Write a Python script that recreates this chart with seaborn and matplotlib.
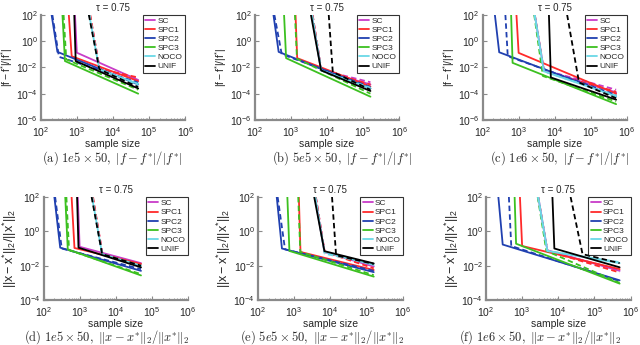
import matplotlib
matplotlib.use('Agg')
import matplotlib.pyplot as plt
from matplotlib.lines import Line2D
from matplotlib.ticker import LogLocator, NullLocator, NullFormatter
import pandas as pd
import seaborn as sns

methods = ['SC', 'SPC1', 'SPC2', 'SPC3', 'NOCO', 'UNIF']
method_colors = ['#c83cc8', '#ff2a2a', '#2040b0', '#3cc020', '#6ad8e6', '#000000']
ceiling = 1e2  # curves enter from the top of the plot

# --- 1e5 x 50: sample sizes where each curve leaves the ceiling, bends, ends
start_1e5_solid = [890, 600, 200, 400, 2200, 850]
knee_1e5_solid = [1000, 720, 290, 470, 4200, 930]
start_1e5_dashed = [2300, 2350, 210, 430, 2250, 2150]
knee_1e5_dashed = [4300, 4300, 320, 510, 4200, 4200]
last_1e5 = 5e4

# --- 5e5 x 50
start_5e5_solid = [3800, 1350, 330, 650, 3800, 3600]
knee_5e5_solid = [6900, 1500, 460, 740, 6900, 6900]
start_5e5_dashed = [4000, 4000, 350, 1300, 3900, 11200]
knee_5e5_dashed = [7000, 7000, 560, 1480, 7000, 14500]
last_5e5 = 1.6e5

# --- 1e6 x 50
start_1e6_solid = [2800, 870, 220, 620, 2800, 6900]
knee_1e6_solid = [5000, 1000, 290, 680, 5000, 7800]
start_1e6_dashed = [2750, 2800, 430, 2700, 2750, 22000]
knee_1e6_dashed = [5000, 5000, 500, 4700, 5000, 47000]
last_1e6 = 5e5

# errors at the bend and at the last sample size
a_knee_solid = [1.3e-1, 7e-2, 1.5e-1, 3e-2, 7e-3, 3e-2]
a_last_solid = [1.1e-3, 9e-4, 5e-4, 1e-4, 5.6e-4, 2.5e-4]
a_knee_dashed = [8e-3, 7.6e-3, 6.3e-2, 4e-2, 7e-3, 7e-3]
a_last_dashed = [1.3e-3, 1.7e-3, 7e-4, 2e-4, 4.5e-4, 3.2e-4]

b_knee_solid = [5.9e-3, 5e-2, 1.5e-1, 5e-2, 5.9e-3, 5.9e-3]
b_last_solid = [5e-4, 3.5e-4, 2.5e-4, 5.9e-5, 2.5e-4, 1.6e-4]
b_knee_dashed = [6.3e-3, 6.3e-3, 1e-1, 4.5e-2, 5.9e-3, 4.4e-3]
b_last_dashed = [7.4e-4, 5e-4, 3.2e-4, 1e-4, 2.8e-4, 2e-4]

c_knee_solid = [6.3e-3, 1.26e-1, 1.4e-1, 2.2e-2, 5e-3, 1.7e-3]
c_last_solid = [1.26e-4, 1e-4, 6.3e-5, 1.6e-5, 6.3e-5, 3.5e-5]
c_knee_dashed = [6.3e-3, 5e-3, 7e-2, 2.2e-3, 5e-3, 7e-4]
c_last_dashed = [2e-4, 1.4e-4, 8e-5, 2.5e-5, 7e-5, 4.5e-5]

d_knee_solid = [1.26e-1, 1.07e-1, 1.12e-1, 8.9e-2, 4.7e-2, 1.12e-1]
d_last_solid = [1.4e-2, 1.26e-2, 5e-3, 2.7e-3, 1e-2, 8e-3]
d_knee_dashed = [4.7e-2, 4.7e-2, 1e-1, 8e-2, 4.7e-2, 4.7e-2]
d_last_dashed = [1.26e-2, 1.1e-2, 6.3e-3, 3.2e-3, 9e-3, 1e-2]

e_knee_solid = [6.3e-2, 6.3e-2, 1e-1, 7.2e-2, 6.3e-2, 7e-2]
e_last_solid = [8.9e-3, 5.6e-3, 4.2e-3, 2.3e-3, 1.1e-2, 1.35e-2]
e_knee_dashed = [6.3e-2, 6.3e-2, 8.9e-2, 6.3e-2, 5e-2, 4e-2]
e_last_dashed = [1e-2, 7e-3, 5e-3, 2.8e-3, 1.26e-2, 1.26e-2]

f_knee_solid = [7.9e-2, 1.4e-1, 1.7e-1, 1.9e-1, 7.2e-2, 1e-1]
f_last_solid = [5e-3, 6.3e-3, 1.4e-3, 9e-4, 1.4e-2, 8e-3]
f_knee_dashed = [7.2e-2, 7.2e-2, 1.4e-1, 7.2e-2, 7.2e-2, 4.7e-2]
f_last_dashed = [5.6e-3, 4e-3, 1.26e-3, 1e-3, 1.6e-2, 1.4e-2]

captions = [r'$\mathrm{(a)}\ 1e5\times 50,\ |f-f^{*}|/|f^{*}|$',
            r'$\mathrm{(b)}\ 5e5\times 50,\ |f-f^{*}|/|f^{*}|$',
            r'$\mathrm{(c)}\ 1e6\times 50,\ |f-f^{*}|/|f^{*}|$',
            r'$\mathrm{(d)}\ 1e5\times 50,\ \|x-x^{*}\|_2/\|x^{*}\|_2$',
            r'$\mathrm{(e)}\ 5e5\times 50,\ \|x-x^{*}\|_2/\|x^{*}\|_2$',
            r'$\mathrm{(f)}\ 1e6\times 50,\ \|x-x^{*}\|_2/\|x^{*}\|_2$']
f_label = r'$|\mathrm{f}-\mathrm{f}^{*}|/|\mathrm{f}^{*}|$'
x_label = r'$||\mathrm{x}-\mathrm{x}^{*}||_{2}/||\mathrm{x}^{*}||_{2}$'


def curve_frame(starts, knees, last, knee_err, last_err, variant):
    rows = []
    for m, s, k, ke, le in zip(methods, starts, knees, knee_err, last_err):
        for x, y in [(s, ceiling), (k, ke), (last, le)]:
            rows.append({'method': m, 'variant': variant, 'size': x, 'err': y})
    return pd.DataFrame(rows)


experiments = [
    (start_1e5_solid, knee_1e5_solid, start_1e5_dashed, knee_1e5_dashed, last_1e5),
    (start_5e5_solid, knee_5e5_solid, start_5e5_dashed, knee_5e5_dashed, last_5e5),
    (start_1e6_solid, knee_1e6_solid, start_1e6_dashed, knee_1e6_dashed, last_1e6),
]
panels = [
    (0, a_knee_solid, a_last_solid, a_knee_dashed, a_last_dashed),
    (1, b_knee_solid, b_last_solid, b_knee_dashed, b_last_dashed),
    (2, c_knee_solid, c_last_solid, c_knee_dashed, c_last_dashed),
    (0, d_knee_solid, d_last_solid, d_knee_dashed, d_last_dashed),
    (1, e_knee_solid, e_last_solid, e_knee_dashed, e_last_dashed),
    (2, f_knee_solid, f_last_solid, f_knee_dashed, f_last_dashed),
]

sns.set_style('ticks')
plt.rcParams['font.family'] = ['Liberation Sans', 'DejaVu Sans']
plt.rcParams['mathtext.fontset'] = 'custom'
plt.rcParams['mathtext.rm'] = 'Liberation Sans'
plt.rcParams['mathtext.it'] = 'Liberation Sans:italic'

W, H = 640, 345
# axes boxes in pixels: left, top, right, bottom
boxes = [(40.7, 14.7, 185.2, 120), (254.7, 14.7, 399.2, 120), (482.5, 14.7, 627, 120),
         (43.5, 197, 188, 300), (258, 197, 402.5, 300), (486, 197, 630.5, 300)]
caption_pos = [(112, 158.5), (342, 158.5), (560, 158.5), (107, 337), (322, 337), (540, 337)]

fig = plt.figure(figsize=(W / 100, H / 100), dpi=100)
gray = '#8a8a8a'

for i, (exp_id, ks, ls, kd, ld) in enumerate(panels):
    ss, sk, ds, dk, last = experiments[exp_id]
    l, t, r, b = boxes[i]
    ax = fig.add_axes([l / W, 1 - b / H, (r - l) / W, (b - t) / H])
    df = pd.concat([curve_frame(ss, sk, last, ks, ls, 'solid'),
                    curve_frame(ds, dk, last, kd, ld, 'dashed')])
    sns.lineplot(data=df, x='size', y='err', hue='method', style='variant',
                 hue_order=methods, palette=method_colors,
                 style_order=['solid', 'dashed'], dashes={'solid': '', 'dashed': (3, 1.8)},
                 estimator=None, sort=False, legend=False, lw=1.3, ax=ax)
    ax.set_xscale('log')
    ax.set_yscale('log')
    ax.set_xlim(1e2, 1e6)
    top_row = i < 3
    ymin = 1e-6 if top_row else 1e-4
    ax.set_ylim(ymin, 1e2)
    ax.set_xticks([1e2, 1e3, 1e4, 1e5, 1e6])
    ax.xaxis.set_minor_locator(LogLocator(base=10, subs=range(2, 10)))
    ax.xaxis.set_minor_formatter(NullFormatter())
    ax.set_yticks([10.0 ** p for p in range(-6 if top_row else -4, 3, 2)])
    ax.yaxis.set_minor_locator(NullLocator())
    for side in ['top', 'right']:
        ax.spines[side].set_visible(False)
    for side in ['left', 'bottom']:
        ax.spines[side].set_color(gray)
        ax.spines[side].set_linewidth(1.6)
    ax.tick_params(which='major', direction='in', length=3, width=0.8, color=gray,
                   labelsize=7.5)
    ax.tick_params(axis='x', which='major', pad=4)
    ax.tick_params(axis='y', which='major', pad=2)
    ax.tick_params(which='minor', direction='in', length=1.5, width=0.6, color=gray)
    ax.set_facecolor('white')
    ax.set_title('τ = 0.75', fontsize=7, pad=3)
    ax.set_xlabel('sample size', fontsize=7.5, labelpad=0)
    if top_row:
        ax.set_ylabel(f_label, fontsize=7.5, labelpad=1)
    else:
        ax.set_ylabel(x_label, fontsize=9, labelpad=0)
    handles = [Line2D([], [], color=c, lw=1.3) for c in method_colors]
    leg = ax.legend(handles, methods, loc='upper right', bbox_to_anchor=(1.0, 1.0),
                    fontsize=6, handlelength=1.2, handletextpad=0.3, labelspacing=0.15,
                    borderpad=0.3, borderaxespad=0, frameon=True, fancybox=False)
    leg.get_frame().set_edgecolor('black')
    leg.get_frame().set_linewidth(0.8)
    cx, cy = caption_pos[i]
    fig.text(cx / W, 1 - cy / H, captions[i], ha='center', va='center',
             fontsize=9, math_fontfamily='cm')

fig.savefig('out.png', dpi=100, facecolor='white')
